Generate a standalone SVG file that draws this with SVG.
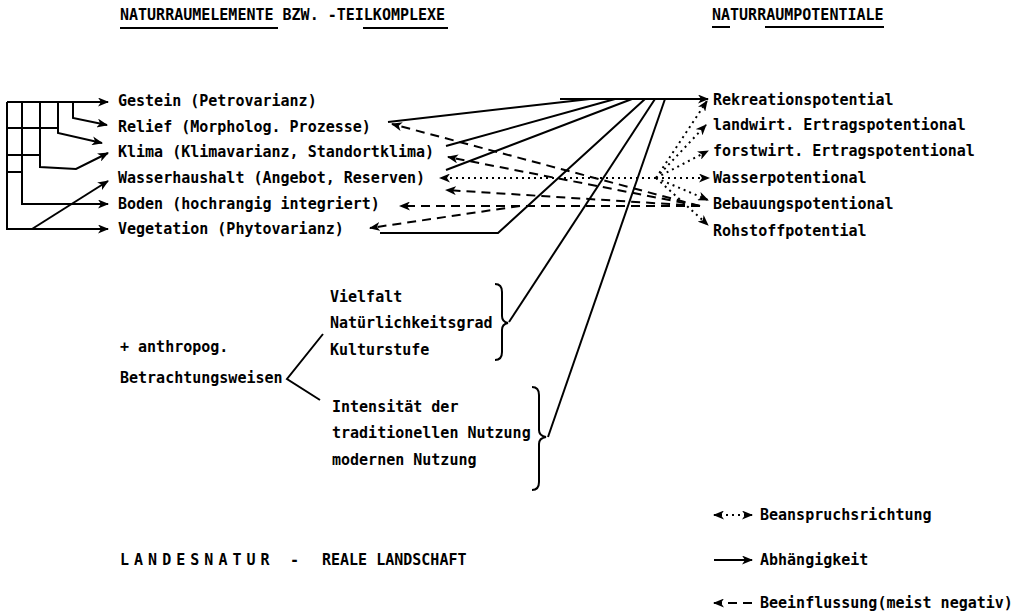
<svg xmlns="http://www.w3.org/2000/svg" width="1016" height="612" viewBox="0 0 1016 612">
<style>
text{font-family:"DejaVu Sans Mono","Liberation Mono",monospace;font-weight:bold;font-size:15px;fill:#000}
.s{fill:none;stroke:#000;stroke-width:2}
.d{fill:none;stroke:#000;stroke-width:2;stroke-dasharray:9 6}
.o{fill:none;stroke:#000;stroke-width:2;stroke-dasharray:2 4}
</style>
<defs>
<marker id="a" markerUnits="userSpaceOnUse" markerWidth="11" markerHeight="9" refX="10" refY="4.5" orient="auto-start-reverse"><path d="M0 0 L11 4.5 L0 9 L3 4.5 Z" fill="#000"/></marker>
</defs>
<rect width="1016" height="612" fill="#fff"/>
<g id="titles">
<text x="120" y="20">NATURRAUMELEMENTE BZW. -TEILKOMPLEXE</text>
<path class="s" d="M120 28 L278 28 M363 28 L448 28"/>
<text x="712" y="20">NATURRAUMPOTENTIALE</text>
<path class="s" d="M712 27 L730 27 M765 27 L884 27"/>
</g>
<g id="elements">
<text id="gestein" x="118" y="106">Gestein (Petrovarianz)</text>
<text id="relief" x="118" y="132">Relief (Morpholog. Prozesse)</text>
<text id="klima" x="118" y="157">Klima (Klimavarianz, Standortklima)</text>
<text id="wasser" x="118" y="183">Wasserhaushalt (Angebot, Reserven)</text>
<text id="boden" x="118" y="209">Boden (hochrangig integriert)</text>
<text id="vegetation" x="118" y="234">Vegetation (Phytovarianz)</text>
</g>
<g id="potentials">
<text id="rekreation" x="713" y="105">Rekreationspotential</text>
<text id="landwirt" x="713" y="130">landwirt. Ertragspotentional</text>
<text id="forstwirt" x="713" y="156">forstwirt. Ertragspotentional</text>
<text id="wasserpot" x="713" y="183">Wasserpotentional</text>
<text id="bebauung" x="713" y="209">Bebauungspotentional</text>
<text id="rohstoff" x="713" y="236">Rohstoffpotential</text>
</g>
<g id="anthropog">
<text x="120" y="352">+ anthropog.</text>
<text x="120" y="383">Betrachtungsweisen</text>
<path class="s" d="M323 334 L287 379 L320 400"/>
</g>
<g id="group1">
<text x="330" y="302">Vielfalt</text>
<text x="330" y="328">Natürlichkeitsgrad</text>
<text x="330" y="355">Kulturstufe</text>
<path class="s" d="M495 284 Q502 284 502 292 L502 316 Q502 322 508 323 Q502 324 502 330 L502 352 Q502 360 495 360"/>
</g>
<g id="group2">
<text x="332" y="412">Intensität der</text>
<text x="332" y="438">traditionellen Nutzung</text>
<text x="332" y="465">modernen Nutzung</text>
<path class="s" d="M532 387 Q539 387 539 395 L539 430 Q539 436 546 437 Q539 438 539 444 L539 482 Q539 490 532 490"/>
</g>
<g id="footer">
<text x="120" y="565" style="letter-spacing:-2px">L A N D E S N A T U R</text>
<text x="290" y="565">-</text>
<text x="322" y="565">REALE LANDSCHAFT</text>
</g>
<g id="legend">
<path class="o" d="M714 515 L752 515" marker-start="url(#a)" marker-end="url(#a)"/>
<text x="760" y="520">Beanspruchsrichtung</text>
<path class="s" d="M714 560 L752 560" marker-end="url(#a)"/>
<text x="760" y="565">Abhängigkeit</text>
<path class="d" d="M752 603 L714 603" marker-end="url(#a)"/>
<text x="760" y="608">Beeinflussung(meist negativ)</text>
</g>
<g id="connectors">
<path class="s" d="M7 102 L108 102" marker-end="url(#a)"/>
<path class="s" d="M7 102 L7 229 L108 229" marker-end="url(#a)"/>
<path class="s" d="M22 102 L22 204 L108 204" marker-end="url(#a)"/>
<path class="s" d="M40 102 L40 167 L76 169 L108 153" marker-end="url(#a)"/>
<path class="s" d="M58 102 L58 133 L102 143" marker-end="url(#a)"/>
<path class="s" d="M73 102 L73 118 L107 125" marker-end="url(#a)"/>
<path class="s" d="M7 128 L58 128 M7 155 L40 155 M7 172 L22 172"/>
<path class="s" d="M32 229 L108 181" marker-end="url(#a)"/>
<path class="s" d="M560 99 L708 99" marker-end="url(#a)"/>
<path class="s" d="M388 122 L590 99"/>
<path class="s" d="M446 146 L615 99"/>
<path class="s" d="M446 170 L632 99"/>
<path class="s" d="M380 233 L498 233 L645 99"/>
<path class="s" d="M509 322 L655 99"/>
<path class="s" d="M548 437 L665 99"/>
<path class="d" d="M700 206 L392 124" marker-end="url(#a)"/>
<path class="d" d="M700 206 L448 157" marker-end="url(#a)"/>
<path class="d" d="M700 206 L446 190" marker-end="url(#a)"/>
<path class="d" d="M700 206 L400 206" marker-end="url(#a)"/>
<path class="d" d="M520 206 L370 228" marker-end="url(#a)"/>
<path class="o" d="M656 178 L440 178" marker-end="url(#a)"/>
<path class="o" d="M656 178 L707 101" marker-end="url(#a)"/>
<path class="o" d="M656 178 L706 125" marker-end="url(#a)"/>
<path class="o" d="M656 178 L708 151" marker-end="url(#a)"/>
<path class="o" d="M656 178 L709 178" marker-end="url(#a)"/>
<path class="o" d="M656 178 L708 200" marker-end="url(#a)"/>
<path class="o" d="M656 178 L708 225" marker-end="url(#a)"/>
</g>
</svg>
